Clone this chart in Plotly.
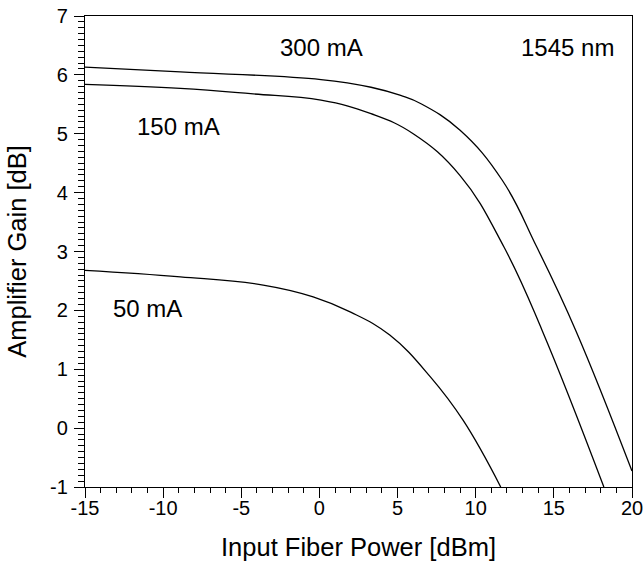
import plotly.graph_objects as go

# Gain vs. input power at 1545 nm for three bias currents
x_300 = [-15, -8.9, 0.1, 3.3, 5.2, 6.5, 9.0, 11.7, 13.9, 16.4, 20.0]
g_300 = [6.13, 6.05, 5.92, 5.79, 5.65, 5.51, 5.06, 4.21, 3.08, 1.66, -0.73]

x_150 = [-15, -8.9, -4.4, 0.1, 3.3, 6.0, 9.0, 11.8, 14.25, 18.2]
g_150 = [5.84, 5.77, 5.68, 5.57, 5.34, 5.0, 4.29, 3.08, 1.66, -1.0]

x_50 = [-15, -8.9, -3.6, -0.4, 2.0, 4.5, 7.1, 9.2, 11.6]
g_50 = [2.68, 2.57, 2.43, 2.23, 1.97, 1.58, 0.87, 0.13, -1.0]

labels = ["300 mA", "150 mA", "50 mA", "1545 nm"]
label_x = [0.14, -9.0, -11.0, 15.9]
label_y = [6.46, 5.12, 2.03, 6.47]

x_ticks = [-15, -10, -5, 0, 5, 10, 15, 20]
y_ticks = [-1, 0, 1, 2, 3, 4, 5, 6, 7]

FONT = "Liberation Sans, Arial, Helvetica, sans-serif"

fig = go.Figure()
for xs, ys in [(x_300, g_300), (x_150, g_150), (x_50, g_50)]:
    fig.add_trace(go.Scatter(
        x=xs, y=ys, mode="lines",
        line=dict(color="black", width=1.3, shape="spline", smoothing=1.2),
        showlegend=False, hoverinfo="skip",
    ))

for t, ax, ay in zip(labels, label_x, label_y):
    fig.add_annotation(x=ax, y=ay, text=t, showarrow=False,
                       font=dict(family=FONT, size=24, color="black"),
                       xanchor="center", yanchor="middle")

axis_common = dict(
    showgrid=False, zeroline=False,
    showline=True, linecolor="black", linewidth=1.2, mirror=True,
    ticks="outside", ticklen=10, tickwidth=1.2, tickcolor="black",
    tickfont=dict(family=FONT, size=20, color="black"),
    ticklabeloverflow="allow",
)

fig.update_xaxes(
    range=[-15, 20], tickmode="array", tickvals=x_ticks,
    ticktext=[str(v) for v in x_ticks], ticklabelstandoff=-7,
    minor=dict(ticks="outside", ticklen=5, tickwidth=1, tickcolor="black",
               tick0=-15, dtick=1, showgrid=False),
    title=dict(text="Input Fiber Power [dBm]",
               font=dict(family=FONT, size=25.5, color="black"), standoff=20),
    **axis_common,
)
fig.update_yaxes(
    range=[-1, 7], tickmode="array", tickvals=y_ticks,
    ticktext=[str(v) for v in y_ticks], ticklabelstandoff=2,
    minor=dict(ticks="outside", ticklen=6, tickwidth=1, tickcolor="black",
               tick0=-1, dtick=0.1, showgrid=False),
    title=dict(text="Amplifier Gain [dB]",
               font=dict(family=FONT, size=25.5, color="black"), standoff=16),
    **axis_common,
)

fig.update_layout(
    width=643, height=564,
    margin=dict(l=85, r=11, t=16, b=77, autoexpand=False),
    paper_bgcolor="white", plot_bgcolor="white",
)

fig.write_html("out.html")
